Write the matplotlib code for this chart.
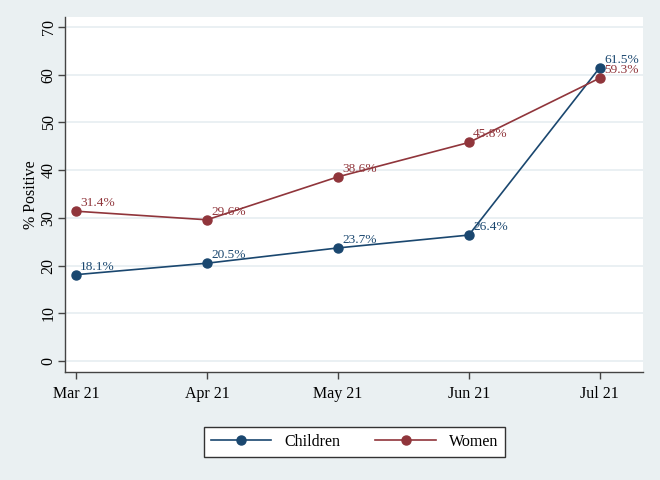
import matplotlib
matplotlib.use("Agg")
import matplotlib.pyplot as plt

# data
months = ["Mar 21", "Apr 21", "May 21", "Jun 21", "Jul 21"]
children = [18.1, 20.5, 23.7, 26.4, 61.5]
women = [31.4, 29.6, 38.6, 45.8, 59.3]
yticks = [0, 10, 20, 30, 40, 50, 60, 70]

navy = "#1A476F"
maroon = "#90353B"
bg = "#EAF0F2"
grid = "#E6EEF1"

plt.rcParams["font.family"] = ["Liberation Serif", "DejaVu Serif"]

fig = plt.figure(figsize=(6.6, 4.8), dpi=100, facecolor=bg)
ax = fig.add_axes([65 / 660, 108 / 480, 578 / 660, 355 / 480])
ax.set_facecolor("white")

x = list(range(len(months)))
ax.plot(x, children, color=navy, lw=1.2, marker="o", ms=6.5, label="Children", zorder=3)
ax.plot(x, women, color=maroon, lw=1.2, marker="o", ms=6.5, label="Women", zorder=3)

# point labels sit up and to the right of each marker
for xi, v in zip(x, children):
    ax.annotate(f"{v:.1f}%", (xi, v), xytext=(3, 3.6), textcoords="offset points",
                color=navy, fontsize=9.6, va="baseline", ha="left")
for xi, v in zip(x, women):
    ax.annotate(f"{v:.1f}%", (xi, v), xytext=(3, 3.6), textcoords="offset points",
                color=maroon, fontsize=9.6, va="baseline", ha="left")

ax.set_xlim(-0.084, 4.33)
ax.set_ylim(-2.3, 72.1)
ax.set_xticks(x)
ax.set_xticklabels(months, fontsize=11.5)
ax.set_yticks(yticks)
ax.set_yticklabels([str(t) for t in yticks], fontsize=11.5, rotation=90, va="center")
ax.set_ylabel("% Positive", fontsize=11.5, labelpad=1)

ax.grid(axis="y", color=grid, lw=1.2)
ax.set_axisbelow(True)
for s in ["top", "right"]:
    ax.spines[s].set_visible(False)
for s in ["left", "bottom"]:
    ax.spines[s].set_color("#444444")
    ax.spines[s].set_linewidth(1.0)
ax.tick_params(length=5, width=1, color="#444444")
ax.tick_params(axis="x", pad=5)
ax.tick_params(axis="y", pad=1)

fig.legend(loc="center", bbox_to_anchor=(354.5 / 660, 38 / 480), ncol=2,
           fontsize=11.5, frameon=True, fancybox=False, edgecolor="#333333",
           facecolor="white", framealpha=1, handlelength=3.8, columnspacing=2.2,
           borderpad=0.45, handletextpad=0.8)

fig.savefig("out.png", dpi=100, facecolor=bg)
